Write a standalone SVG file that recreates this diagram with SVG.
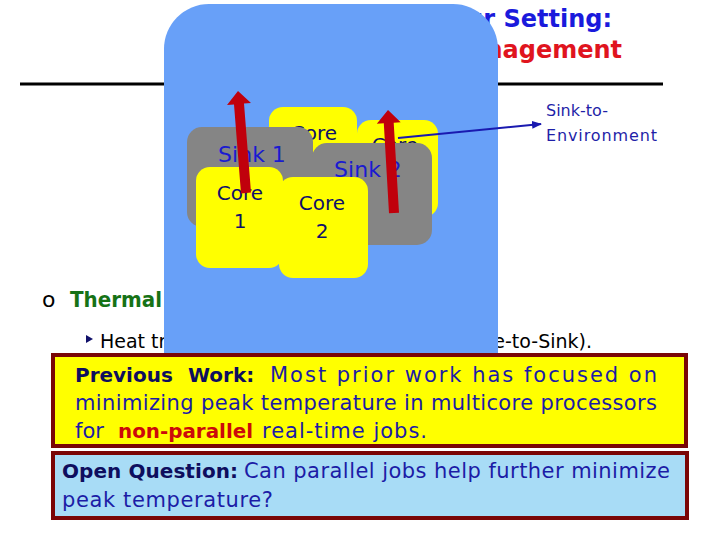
<svg xmlns="http://www.w3.org/2000/svg" width="720" height="540" viewBox="0 0 720 540">
<style>
  text { font-family: "DejaVu Sans", "Liberation Sans", sans-serif; }
  .core { fill: #ffff00; }
  .sink { fill: #858585; }
  .corelbl { font-size: 20px; fill: #10106a; text-anchor: middle; }
  .sinklbl { font-size: 22px; fill: #1a1ad0; text-anchor: middle; }
  .heat { fill: #c0000c; }
  .box { stroke: #7a0606; stroke-width: 4; }
  .lbl { font-weight: bold; fill: #0e0e5e; font-size: 20px; }
  .body { fill: #1c1ca6; font-size: 21px; }
</style>
<defs>
  <marker id="ah" viewBox="0 0 10 10" refX="9" refY="5" markerWidth="5" markerHeight="5" orient="auto">
    <path d="M0,1 L10,5 L0,9 z" fill="#1a1ab0"/>
  </marker>
</defs>
<rect width="720" height="540" fill="#ffffff"/>

<g id="title" font-weight="bold" font-size="24" text-anchor="end">
  <text x="612" y="27" fill="#1a1adc">Our Setting:</text>
  <text x="622" y="58" fill="#e0141e">Thermal Management</text>
</g>
<line id="rule" x1="20" y1="84" x2="663" y2="84" stroke="#000" stroke-width="3"/>

<g id="bullet-thermal">
  <text x="42" y="307" font-size="22" fill="#000">o</text>
  <text x="70" y="307" font-size="22" font-weight="bold" fill="#167216" textLength="92" lengthAdjust="spacingAndGlyphs">Thermal</text>
</g>
<g id="bullet-heat" font-size="19" fill="#000">
  <path d="M86,335 L93,339 L86,343 z" fill="#10106a"/>
  <text x="100" y="348">Heat transfer</text>
  <text x="592" y="348" text-anchor="end">(Core-to-Core and Core-to-Sink).</text>
</g>

<rect id="panel" x="164" y="4" width="334" height="400" rx="45" fill="#68a0f8"/>

<g id="back-cores">
  <g id="core3"><rect class="core" x="269" y="107" width="88" height="100" rx="14"/><text class="corelbl" x="314" y="140">Core</text></g>
  <g id="core4"><rect class="core" x="357" y="120" width="81" height="97" rx="14"/><text class="corelbl" x="395" y="152">Core</text></g>
</g>
<g id="sinks">
  <g id="sink1"><rect class="sink" x="187" y="127" width="126" height="100" rx="15"/><text class="sinklbl" x="252" y="162">Sink 1</text></g>
  <g id="sink2"><rect class="sink" x="312" y="143" width="120" height="102" rx="15"/><text class="sinklbl" x="368" y="177">Sink 2</text></g>
</g>
<g id="front-cores">
  <g id="core1"><rect class="core" x="196" y="167" width="87" height="101" rx="14"/><text class="corelbl" x="240" y="200">Core</text><text class="corelbl" x="240" y="228">1</text></g>
  <g id="core2"><rect class="core" x="279" y="177" width="89" height="101" rx="14"/><text class="corelbl" x="322" y="210">Core</text><text class="corelbl" x="322" y="238">2</text></g>
</g>

<g id="connectors">
  <polygon class="heat" points="241,193.4 234,104.4 227,104.9 238,91 251,103.1 244,103.6 251,192.6"/>
  <polygon class="heat" points="389,213.3 383.8,123.3 376.8,123.7 388,110 400.7,122.3 393.7,122.7 399,212.7"/>
  <line x1="398" y1="138" x2="541" y2="124" stroke="#1a1ab0" stroke-width="2" marker-end="url(#ah)"/>
</g>
<g id="env-label" font-size="16" fill="#1f1fa8">
  <text x="546" y="116">Sink-to-</text>
  <text x="546" y="141" textLength="111" lengthAdjust="spacing">Environment</text>
</g>

<g id="previous-work">
  <rect class="box" x="53" y="355" width="633" height="91" fill="#ffff00"/>
  <text class="lbl" x="75" y="382">Previous</text>
  <text class="lbl" x="188" y="382">Work:</text>
  <text class="body" x="270" y="382" textLength="387" lengthAdjust="spacing">Most prior work has focused on</text>
  <text class="body" x="75" y="410" textLength="582" lengthAdjust="spacing">minimizing peak temperature in multicore processors</text>
  <text class="body" x="75" y="438">for</text>
  <text x="118" y="438" font-size="20" font-weight="bold" fill="#cc0a0a" textLength="135" lengthAdjust="spacingAndGlyphs">non-parallel</text>
  <text class="body" x="262" y="438" textLength="165" lengthAdjust="spacing">real-time jobs.</text>
</g>

<g id="open-question">
  <rect class="box" x="53" y="453" width="634" height="65" fill="#a8dcf6"/>
  <text class="lbl" x="62" y="478" textLength="176" lengthAdjust="spacing">Open Question:</text>
  <text class="body" x="244" y="478" textLength="426" lengthAdjust="spacing">Can parallel jobs help further minimize</text>
  <text class="body" x="62" y="507" textLength="211" lengthAdjust="spacing">peak temperature?</text>
</g>
</svg>
